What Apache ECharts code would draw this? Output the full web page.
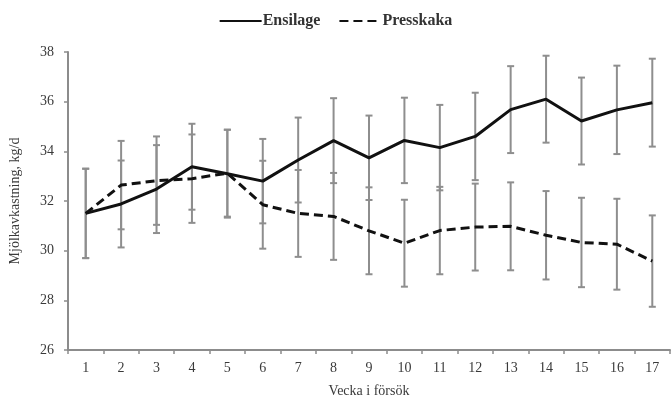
<!DOCTYPE html>
<html><head><meta charset="utf-8">
<script src="https://cdn.jsdelivr.net/npm/echarts@6/dist/echarts.min.js"></script>
<style>html,body{margin:0;padding:0;background:#fff}#c{width:671px;height:403px}</style>
</head><body><div id="c"></div>
<script>
var weeks = ['1','2','3','4','5','6','7','8','9','10','11','12','13','14','15','16','17'];
var ensilage = [31.5, 31.88, 32.48, 33.38, 33.1, 32.8, 33.65, 34.43, 33.74, 34.44, 34.15, 34.6, 35.68, 36.1, 35.22, 35.67, 35.96];
var ensilageSd = [1.8, 1.75, 1.77, 1.73, 1.77, 1.7, 1.71, 1.71, 1.7, 1.72, 1.72, 1.76, 1.75, 1.75, 1.75, 1.78, 1.77];
var presskaka = [31.5, 32.64, 32.82, 32.9, 33.12, 31.85, 31.5, 31.38, 30.8, 30.3, 30.81, 30.95, 30.98, 30.62, 30.33, 30.26, 29.58];
var presskakaSd = [1.8, 1.78, 1.78, 1.78, 1.75, 1.77, 1.75, 1.75, 1.75, 1.75, 1.76, 1.75, 1.77, 1.78, 1.8, 1.83, 1.84];
var yTicks = [26, 28, 30, 32, 34, 36, 38];

var font = '"Liberation Serif", "Times New Roman", serif';
var txt = '#3a3a3a';
var axisCol = '#8c8c8c';
var barCol = '#8e8e8e';

function errData(means, sds) {
  return means.map(function (m, i) { return [i, m - sds[i], m + sds[i]]; });
}
function renderErr(params, api) {
  var lo = api.coord([api.value(0), api.value(1)]);
  var hi = api.coord([api.value(0), api.value(2)]);
  var w = 3.5;
  var st = { stroke: barCol, lineWidth: 2 };
  return { type: 'group', children: [
    { type: 'line', shape: { x1: lo[0], y1: lo[1], x2: hi[0], y2: hi[1] }, style: st },
    { type: 'line', shape: { x1: lo[0] - w, y1: lo[1], x2: lo[0] + w, y2: lo[1] }, style: st },
    { type: 'line', shape: { x1: hi[0] - w, y1: hi[1], x2: hi[0] + w, y2: hi[1] }, style: st }
  ]};
}

var chart = echarts.init(document.getElementById('c'));
chart.setOption({
  animation: false,
  textStyle: { fontFamily: font },
  legend: {
    top: 8, left: 'center', itemWidth: 42, itemHeight: 12, itemGap: 18,
    data: ['Ensilage', 'Presskaka'],
    itemStyle: { opacity: 0 },
    textStyle: { fontFamily: font, fontSize: 16, fontWeight: 'bold', color: '#333', padding: [0, 0, 0, -4] }
  },
  grid: { left: 67, right: 1, top: 52, bottom: 53 },
  xAxis: {
    type: 'category', data: weeks, boundaryGap: true,
    name: 'Vecka i försök', nameLocation: 'middle', nameGap: 34,
    nameTextStyle: { fontFamily: font, fontSize: 14, color: txt },
    axisLine: { lineStyle: { color: axisCol, width: 2 } },
    axisTick: { show: true, length: 4, lineStyle: { color: axisCol, width: 1.5 } },
    axisLabel: { fontFamily: font, fontSize: 14, color: txt, margin: 11 }
  },
  yAxis: {
    type: 'value', min: 26, max: 38, interval: 2,
    name: 'Mjölkavkastning, kg/d', nameLocation: 'middle', nameGap: 46, nameRotate: 90,
    nameTextStyle: { fontFamily: font, fontSize: 14, color: txt },
    axisLine: { show: true, lineStyle: { color: axisCol, width: 2 } },
    axisTick: { show: true, length: 4, lineStyle: { color: axisCol, width: 1.5 } },
    axisLabel: { fontFamily: font, fontSize: 14, color: txt, margin: 14,
      formatter: function (v) { return yTicks.indexOf(v) >= 0 ? String(v) : ''; } },
    splitLine: { show: false }
  },
  series: [
    { name: 'errE', type: 'custom', renderItem: renderErr, data: errData(ensilage, ensilageSd), z: 1, encode: { x: 0, y: [1, 2] } },
    { name: 'errP', type: 'custom', renderItem: renderErr, data: errData(presskaka, presskakaSd), z: 1, encode: { x: 0, y: [1, 2] } },
    { name: 'Ensilage', type: 'line', data: ensilage, symbol: 'none', z: 5,
      lineStyle: { color: '#111', width: 3, type: 'solid' }, itemStyle: { color: '#111' } },
    { name: 'Presskaka', type: 'line', data: presskaka, symbol: 'none', z: 5,
      lineStyle: { color: '#111', width: 3, type: [9, 5] }, itemStyle: { color: '#111' } }
  ]
});
</script>
</body></html>
